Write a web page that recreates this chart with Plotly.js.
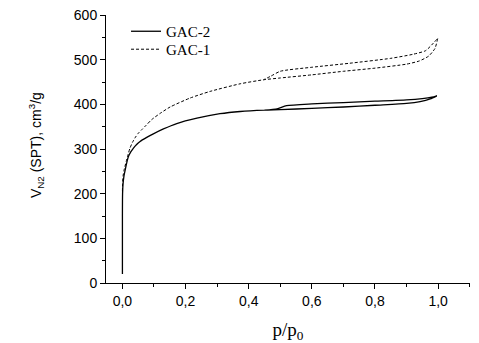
<!DOCTYPE html>
<html>
<head>
<meta charset="utf-8">
<script src="https://cdn.plot.ly/plotly-3.0.1.min.js"></script>
<style>html,body{margin:0;padding:0;background:#fff;}#chart{width:479px;height:343px;}</style>
</head>
<body>
<div id="chart"></div>
<script>
// GAC-2 (solid) adsorption / desorption branches
const gac2AdsP = [0, 0, 0.0005, 0.002, 0.005, 0.009, 0.014, 0.019, 0.027, 0.035, 0.045, 0.056, 0.077, 0.098, 0.13, 0.172, 0.236, 0.309, 0.373, 0.45, 0.5, 0.6, 0.7, 0.8, 0.9, 0.943, 0.975, 0.996];
const gac2AdsV = [20, 150, 200, 222, 240, 254, 270, 283, 294, 302, 310, 317, 326, 334, 345, 357, 369, 379, 384, 387, 388, 391, 394, 398, 402, 406, 412, 419];
const gac2DesP = [0.996, 0.98, 0.95, 0.9, 0.8, 0.7, 0.6, 0.52, 0.49, 0.45];
const gac2DesV = [419, 416, 413, 410, 407, 404, 401, 397, 390, 387];

// GAC-1 (dashed) adsorption / desorption branches
const gac1AdsP = [0, 0.0005, 0.002, 0.005, 0.012, 0.018, 0.024, 0.032, 0.04, 0.05, 0.061, 0.075, 0.093, 0.12, 0.151, 0.214, 0.278, 0.373, 0.447, 0.5, 0.6, 0.7, 0.8, 0.9, 0.94, 0.97, 0.99, 0.999];
const gac1AdsV = [205, 222, 239, 252, 272, 288, 302, 315, 325, 335, 343, 353, 366, 380, 394, 414, 429, 446, 455, 459, 466, 474, 481, 490, 497, 508, 525, 548];
const gac1DesP = [0.999, 0.985, 0.96, 0.92, 0.85, 0.72, 0.6, 0.5, 0.47, 0.447];
const gac1DesV = [548, 537, 520, 512, 503, 492, 483, 474, 463, 455];

const seriesNames = ['GAC-2', 'GAC-1'];
const xTickVals = [0, 0.2, 0.4, 0.6, 0.8, 1.0];
const yTickVals = [0, 100, 200, 300, 400, 500, 600];
const yTitle = 'V<sub>N2</sub> (SPT), cm<sup>3</sup>/g';
const xTitle = 'p/p<sub>0</sub>';

const traces = [
  {
    x: gac2AdsP.concat(gac2DesP), y: gac2AdsV.concat(gac2DesV),
    name: seriesNames[0], mode: 'lines', type: 'scatter', legend: 'legend',
    line: {color: '#000', width: 1.3, shape: 'spline', smoothing: 0.6}
  },
  {
    x: gac1AdsP.concat(gac1DesP), y: gac1AdsV.concat(gac1DesV),
    name: seriesNames[1], mode: 'lines', type: 'scatter', legend: 'legend2',
    line: {color: '#000', width: 1, dash: '3px,2px', shape: 'spline', smoothing: 0.6}
  }
];

const legendFont = {family: 'Liberation Serif, Times New Roman, serif', size: 15, color: '#000'};

const layout = {
  width: 479, height: 343,
  margin: {l: 106, r: 9, t: 15, b: 60},
  paper_bgcolor: '#fff', plot_bgcolor: '#fff',
  separators: ', ',
  showlegend: true,
  legend: {
    x: 0.055, y: 1.0, xanchor: 'left', yanchor: 'top',
    bgcolor: 'rgba(0,0,0,0)', borderwidth: 0, font: legendFont
  },
  legend2: {
    x: 0.055, y: 0.933, xanchor: 'left', yanchor: 'top',
    bgcolor: 'rgba(0,0,0,0)', borderwidth: 0, font: legendFont
  },
  xaxis: {
    range: [-0.052, 1.101], showgrid: false, zeroline: false,
    showline: true, linecolor: '#000', linewidth: 1,
    ticks: 'outside', ticklen: 5, tickwidth: 1, tickcolor: '#000',
    tickvals: xTickVals, tickformat: '.1f',
    minor: {dtick: 0.1, tick0: 0, ticks: 'outside', ticklen: 3, tickcolor: '#000', showgrid: false},
    tickfont: {family: 'Liberation Sans, Arial, sans-serif', size: 14, color: '#000'},
    title: {text: xTitle, font: {family: 'Liberation Serif, Times New Roman, serif', size: 19, color: '#000'}},
    automargin: false
  },
  yaxis: {
    range: [0, 600], showgrid: false, zeroline: false,
    showline: true, linecolor: '#000', linewidth: 1,
    ticks: 'outside', ticklen: 5, tickwidth: 1, tickcolor: '#000',
    tickvals: yTickVals,
    minor: {dtick: 50, tick0: 0, ticks: 'outside', ticklen: 3, tickcolor: '#000', showgrid: false},
    tickfont: {family: 'Liberation Sans, Arial, sans-serif', size: 14, color: '#000'},
    automargin: false
  },
  annotations: [{
    text: yTitle, xref: 'paper', yref: 'paper',
    x: -0.192, y: 0.515, xanchor: 'center', yanchor: 'middle',
    textangle: -90, showarrow: false,
    font: {family: 'Liberation Sans, Arial, sans-serif', size: 14, color: '#000'}
  }]
};

Plotly.newPlot('chart', traces, layout, {displayModeBar: false, staticPlot: true});
</script>
</body>
</html>
